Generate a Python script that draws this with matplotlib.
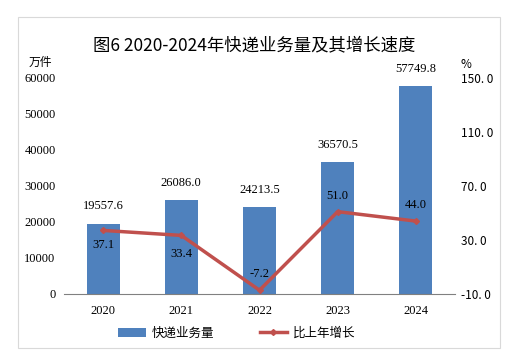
import matplotlib
matplotlib.use("Agg")
import matplotlib.pyplot as plt
from matplotlib.patches import Rectangle

# data
years = ["2020", "2021", "2022", "2023", "2024"]
volume = [19557.6, 26086.0, 24213.5, 36570.5, 57749.8]   # 万件
growth = [37.1, 33.4, -7.2, 51.0, 44.0]                   # %
growth_below = [True, True, False, False, False]           # label under the point?

cjk = ["Noto Sans CJK SC", "DejaVu Sans"]
num = "Liberation Serif"
bar_col = "#4F81BD"
line_col = "#C0504D"

fig = plt.figure(figsize=(5.09, 3.55), dpi=100)
fig.patch.set_facecolor("white")

# light frame round the whole chart
fig.add_artist(Rectangle((18 / 509, 1 - 348 / 355), 482 / 509, 331 / 355,
                         transform=fig.transFigure, fill=False,
                         edgecolor="#D9D9D9", linewidth=0.8))

ax = fig.add_axes([64 / 509, 1 - 294 / 355, 391 / 509, 216 / 355])
x = range(len(years))
ax.bar(x, volume, width=0.42, color=bar_col, zorder=2, label="快递业务量")
ax.set_xlim(-0.5, 4.5)
ax.set_ylim(0, 60000)
ax.set_yticks(range(0, 60001, 10000))
ax.set_xticks(list(x))
ax.set_xticklabels(years, fontfamily=num, fontsize=9)
for lab in ax.get_yticklabels():
    lab.set_fontfamily(num)
    lab.set_fontsize(9)
for s in ["left", "right", "top"]:
    ax.spines[s].set_visible(False)
ax.spines["bottom"].set_color("#808080")
ax.tick_params(axis="x", length=0, pad=8)
ax.tick_params(axis="y", length=0, pad=6)

for i, v in enumerate(volume):
    ax.annotate(f"{v:.1f}", (i, v), xytext=(0, 8), textcoords="offset points",
                ha="center", va="bottom", fontfamily=num, fontsize=9)

ax2 = ax.twinx()
ax2.plot(list(x), growth, color=line_col, linewidth=2.5, marker="D",
         markersize=3, zorder=3, label="比上年增长")
ax2.set_ylim(-10, 150)
ax2.set_yticks([-10, 30, 70, 110, 150])
ax2.set_yticklabels(["-10. 0", "30. 0", "70. 0", "110. 0", "150. 0"],
                    fontfamily=cjk, fontsize=8.5)
for s in ["left", "right", "top", "bottom"]:
    ax2.spines[s].set_visible(False)
ax2.tick_params(axis="y", length=0, pad=4)

for i, g in enumerate(growth):
    dy = -6 if growth_below[i] else 7
    va = "top" if growth_below[i] else "bottom"
    if i == 1:
        dy = -9
    ax2.annotate(f"{g:.1f}", (i, g), xytext=(0, dy), textcoords="offset points",
                 ha="center", va=va, fontfamily=num, fontsize=9, zorder=4)

fig.text(0.5, 1 - 45 / 355, "图6 2020-2024年快递业务量及其增长速度", ha="center",
         va="center", fontfamily=cjk, fontsize=12.5)
fig.text(40 / 509, 1 - 62 / 355, "万件", ha="center", va="center",
         fontfamily=cjk, fontsize=8.5)
fig.text(466 / 509, 1 - 64 / 355, "%", ha="center", va="center",
         fontfamily=cjk, fontsize=8.5)

h1, l1 = ax.get_legend_handles_labels()
h2, l2 = ax2.get_legend_handles_labels()
fig.legend(h1 + h2, l1 + l2, loc="center", bbox_to_anchor=(237 / 509, 1 - 333 / 355),
           ncol=2, frameon=False, prop={"family": cjk, "size": 9},
           handlelength=2.2, columnspacing=3.6, handletextpad=0.5)

fig.savefig("out.png", dpi=100)
